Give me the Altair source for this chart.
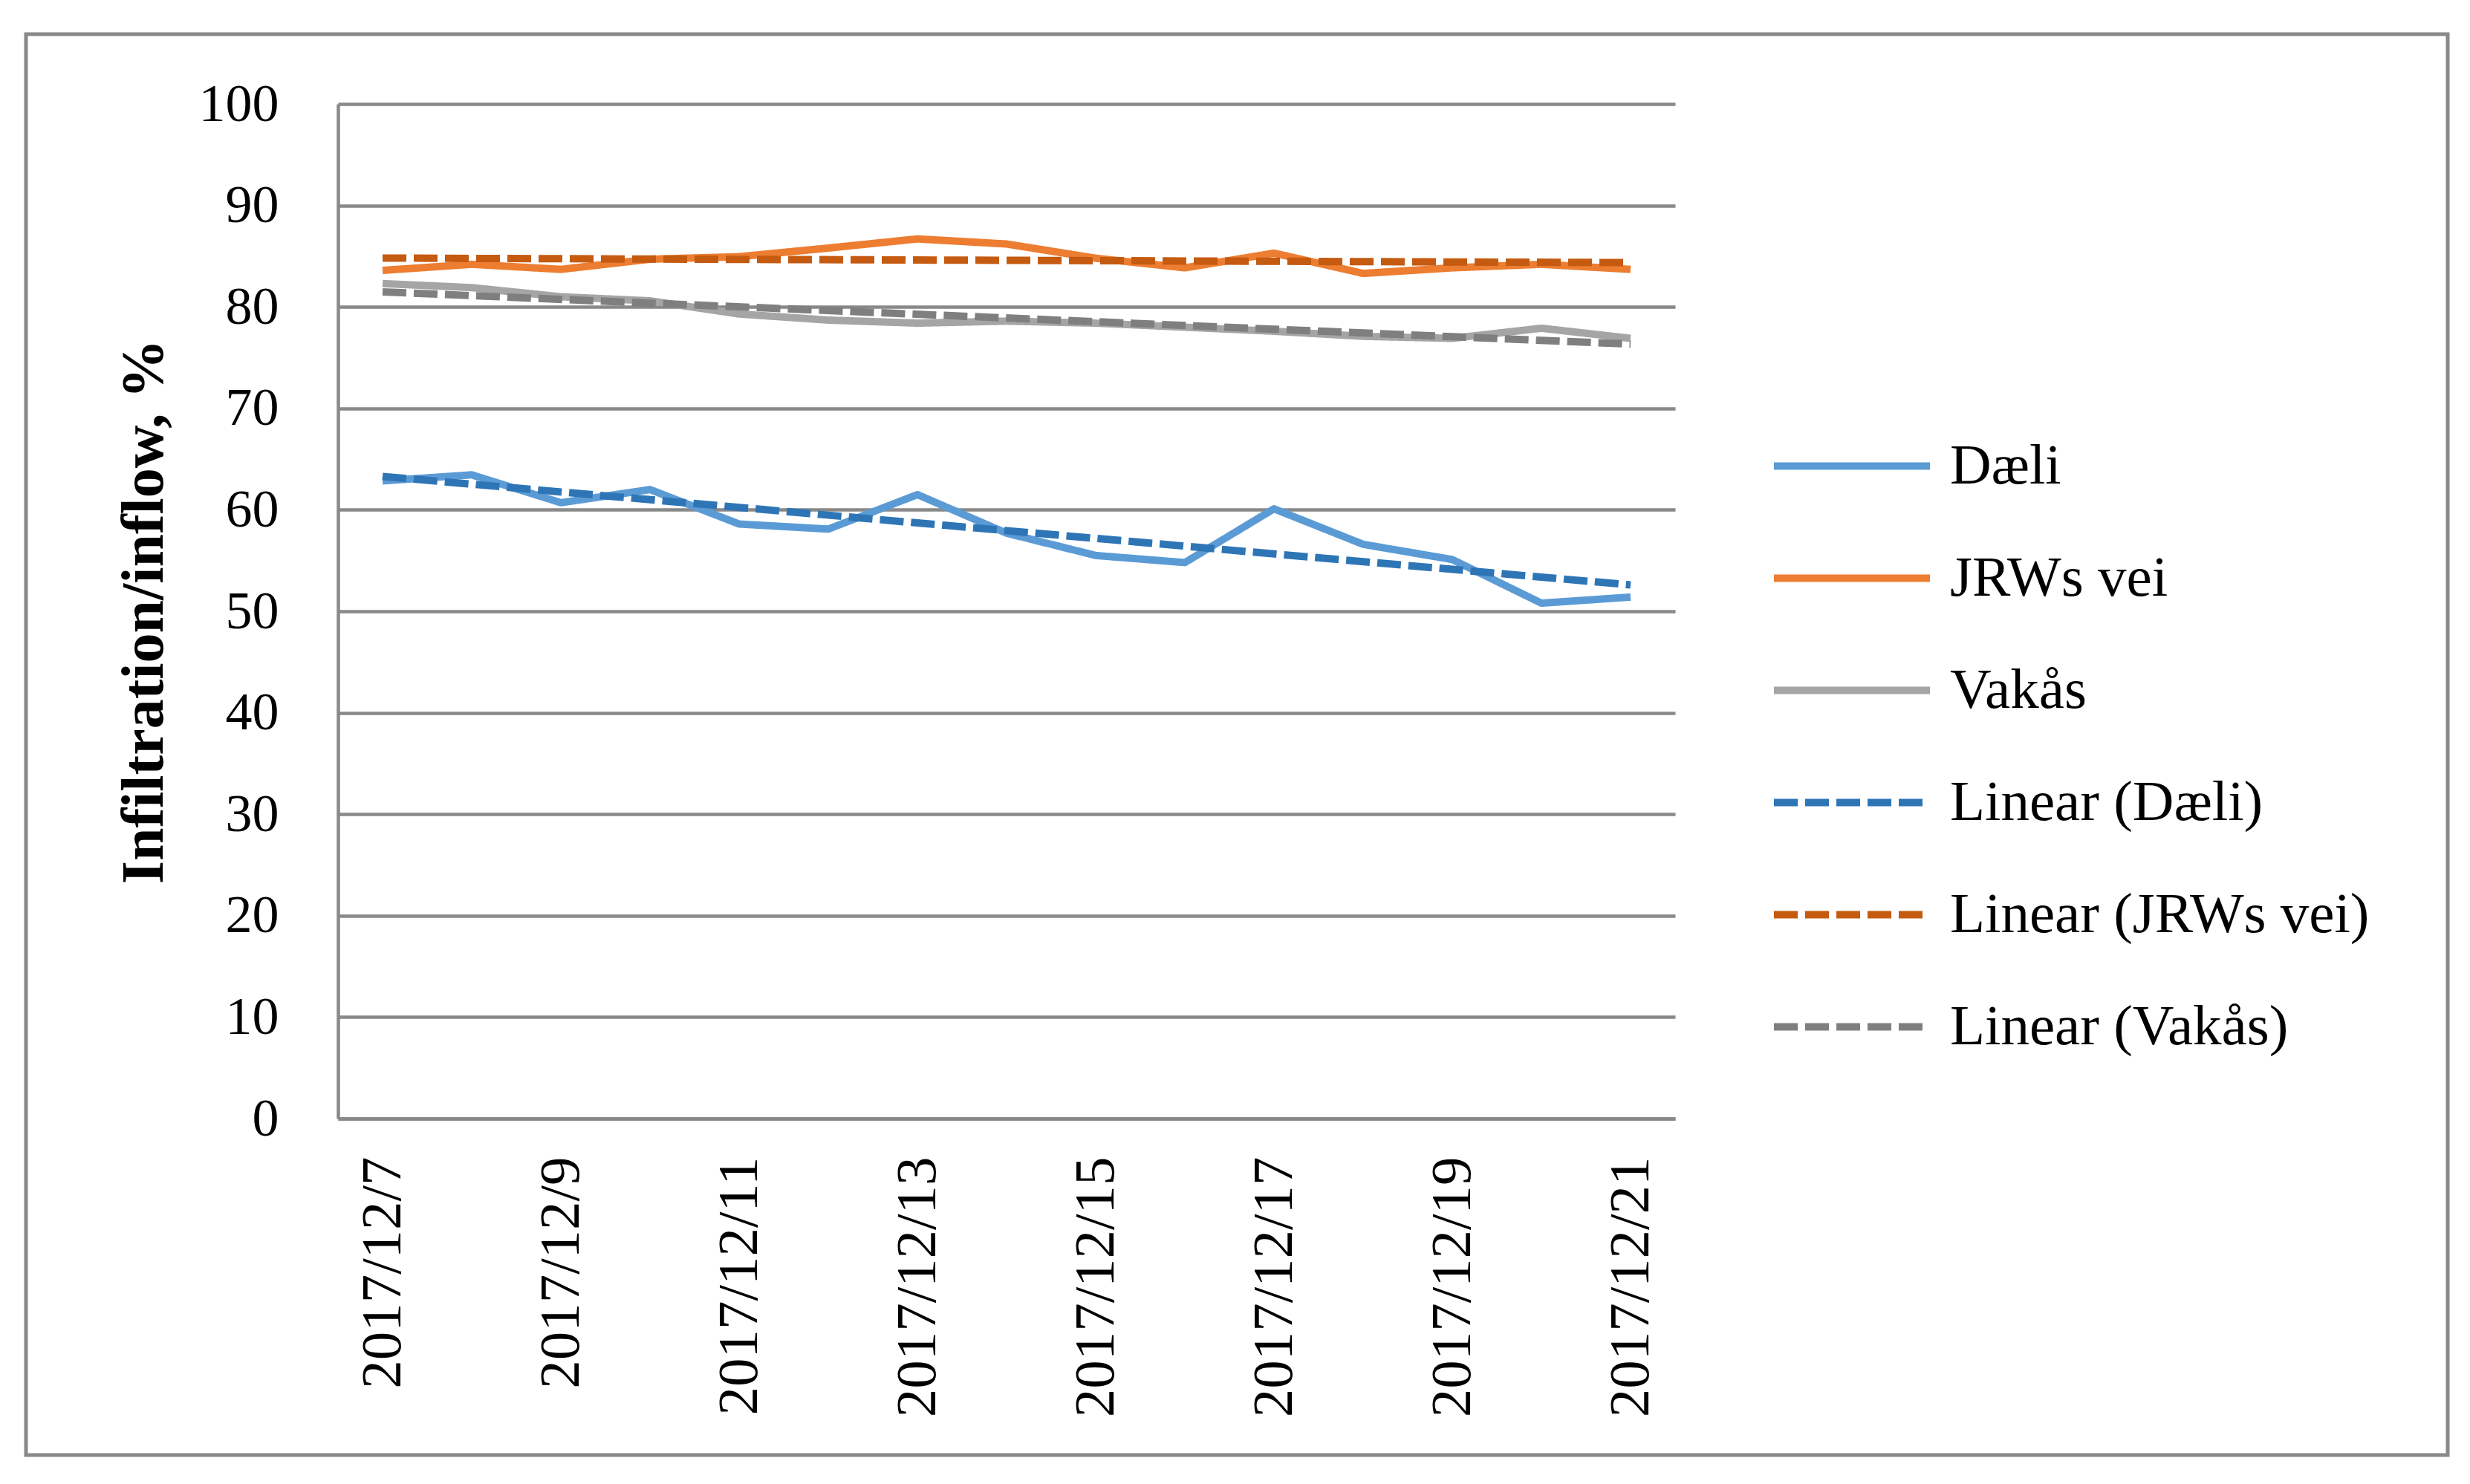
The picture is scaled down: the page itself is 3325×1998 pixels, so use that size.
import json
import altair as alt
import pandas as pd

# ---- data ----
dates = ["2017/12/7", "2017/12/8", "2017/12/9", "2017/12/10", "2017/12/11",
         "2017/12/12", "2017/12/13", "2017/12/14", "2017/12/15", "2017/12/16",
         "2017/12/17", "2017/12/18", "2017/12/19", "2017/12/20", "2017/12/21"]
daeli = [62.85, 63.45, 60.7, 62.0, 58.6, 58.1, 61.5, 57.7, 55.5, 54.8, 60.1, 56.6, 55.1, 50.8, 51.4]
jrws = [83.6, 84.2, 83.7, 84.7, 84.95, 85.8, 86.7, 86.2, 84.8, 83.85, 85.3, 83.3, 83.85, 84.2, 83.7]
vakas = [82.3, 81.9, 81.0, 80.6, 79.3, 78.7, 78.4, 78.6, 78.4, 78.0, 77.6, 77.1, 76.9, 77.9, 76.9]
series_names = ["Dæli", "JRWs vei", "Vakås"]
trend_names = ["Linear (Dæli)", "Linear (JRWs vei)", "Linear (Vakås)"]
y_ticks = [0, 10, 20, 30, 40, 50, 60, 70, 80, 90, 100]
x_label_idx = [0, 2, 4, 6, 8, 10, 12, 14]

colors = ["#5B9BD5", "#ED7D31", "#A5A5A5", "#2E75B6", "#C55A11", "#7F7F7F"]
dashes = [[1, 0], [1, 0], [1, 0], [32, 10], [32, 10], [32, 10]]

rows = []
for name, vals in zip(series_names, [daeli, jrws, vakas]):
    for i, (d, v) in enumerate(zip(dates, vals)):
        rows.append({"series": name, "label": name, "idx": i, "date": d, "value": v})
df = pd.DataFrame(rows)

W, H = 1800, 1366
FONT = "Liberation Serif"
GRID = "#898989"

label_domain = series_names + trend_names


def legend():
    return alt.Legend(title=None, orient="none", legendX=1928, legendY=449,
                      symbolType="stroke", symbolSize=44100,
                      symbolStrokeWidth=10, labelFont=FONT,
                      labelFontSize=77, labelColor="black",
                      labelLimit=1000, labelOffset=22,
                      clipHeight=77, rowPadding=73, padding=0)


color_enc = alt.Color("label:N", scale=alt.Scale(domain=label_domain, range=colors),
                      legend=legend())
dash_enc = alt.StrokeDash("label:N", scale=alt.Scale(domain=label_domain, range=dashes),
                          legend=legend())

x_enc = alt.X("idx:Q",
              scale=alt.Scale(domain=[-0.5, len(dates) - 0.5], nice=False, zero=False),
              axis=alt.Axis(title=None, values=x_label_idx,
                            labelExpr=json.dumps(dates) + "[datum.value]",
                            labelAngle=-90, labelFont=FONT, labelFontSize=77,
                            labelColor="black", labelPadding=51, labelLimit=1000,
                            ticks=False, tickSize=0,
                            grid=False, domainColor=GRID, domainWidth=4.5))
y_enc = alt.Y("value:Q",
              scale=alt.Scale(domain=[0, 100], nice=False),
              axis=alt.Axis(title="Infiltration/inflow, %", values=y_ticks,
                            labelFont=FONT, labelFontSize=72, labelColor="black",
                            labelPadding=80, ticks=False, tickSize=0,
                            grid=True, gridColor=GRID, gridWidth=4.5,
                            domainColor=GRID, domainWidth=4.5,
                            titleFont=FONT, titleFontSize=80, titleFontWeight="bold",
                            titleColor="black", titlePadding=32))

base = alt.Chart(df)

solid = base.mark_line(strokeWidth=10, strokeJoin="round").encode(
    x=x_enc, y=y_enc, color=color_enc, strokeDash=dash_enc, detail="series:N")

trend = base.transform_regression(
    "idx", "value", groupby=["series"]
).transform_calculate(
    label="'Linear (' + datum.series + ')'"
).mark_line(strokeWidth=10).encode(
    x=x_enc, y=y_enc, color=color_enc, strokeDash=dash_enc, detail="series:N")

frame = alt.Chart(pd.DataFrame({"f": [0]})).mark_rect(
    fillOpacity=0, stroke=GRID, strokeWidth=5
).encode(x=alt.value(-420), x2=alt.value(2840), y=alt.value(-94), y2=alt.value(1819))

chart = alt.layer(frame, solid, trend).properties(
    width=W, height=H,
    padding={"left": 24, "top": 35, "right": 10, "bottom": 10},
    background="white",
).configure_view(strokeOpacity=0)

chart.save("out.html", embed_options={"renderer": "svg", "actions": False})
